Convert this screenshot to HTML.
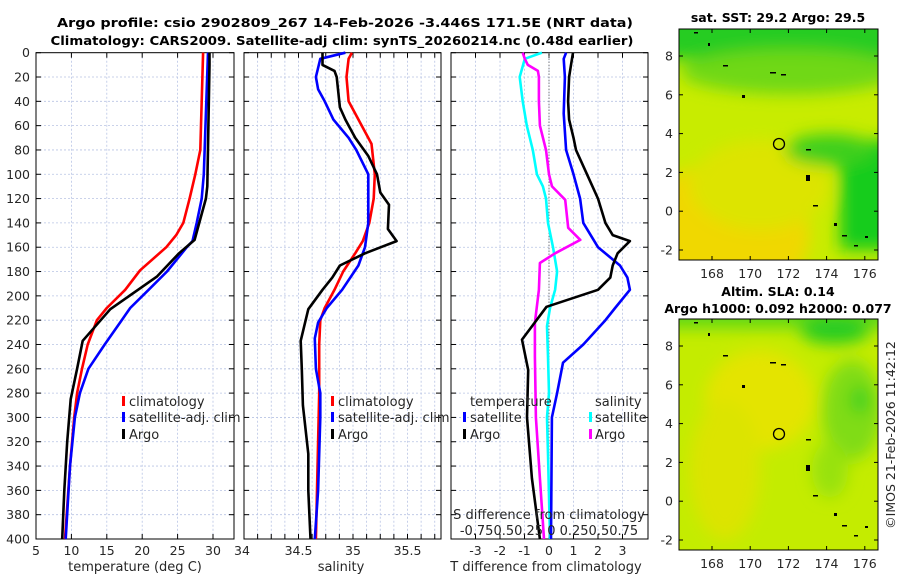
<!DOCTYPE html>
<html><head><meta charset="utf-8"><style>
body{margin:0;background:#fff;}
svg{display:block;font-family:"DejaVu Sans","Liberation Sans",sans-serif;}
.tk{font-size:12.5px;fill:#262626;}
.tt{font-size:12.5px;font-weight:bold;fill:#000;}
.lg{font-size:13px;fill:#262626;}
</style></head><body>
<svg id="c" width="900" height="580" viewBox="0 0 900 580" xmlns="http://www.w3.org/2000/svg">
<defs>
<filter id="bl" x="-20%" y="-20%" width="140%" height="140%"><feGaussianBlur stdDeviation="8"/></filter>
<clipPath id="m1c"><rect x="679" y="29" width="199" height="231"/></clipPath>
<clipPath id="m2c"><rect x="679" y="319" width="199" height="231"/></clipPath>
</defs>
<text class="tt" x="345" y="27" text-anchor="middle" textLength="576" lengthAdjust="spacingAndGlyphs">Argo profile: csio 2902809_267 14-Feb-2026 -3.446S 171.5E (NRT data)</text>
<text class="tt" x="342" y="45" text-anchor="middle" textLength="583" lengthAdjust="spacingAndGlyphs">Climatology: CARS2009. Satellite-adj clim: synTS_20260214.nc (0.48d earlier)</text>

<g id="grid"></g>
<g id="lines"></g>

<!-- map 1 -->
<g clip-path="url(#m1c)">
<rect x="679" y="29" width="199" height="231" fill="#c8ec00"/>
<g filter="url(#bl)">
<ellipse cx="720" cy="235" rx="90" ry="70" fill="#f0d800"/>
<ellipse cx="760" cy="185" rx="70" ry="45" fill="#dde400"/>
<rect x="660" y="10" width="240" height="50" fill="#28cc20"/>
<ellipse cx="790" cy="72" rx="110" ry="22" fill="#70d818"/>
<rect x="840" y="140" width="60" height="110" fill="#14cc1c"/>
<ellipse cx="830" cy="150" rx="45" ry="16" fill="#3ccf1e"/>
</g>
<g fill="#000">
<rect x="694" y="32" width="4" height="1.5"/><rect x="708" y="43" width="2" height="3"/><rect x="723" y="65" width="5" height="1.5"/>
<rect x="770" y="72" width="6" height="1.5"/><rect x="781" y="74" width="5" height="1.5"/><rect x="742" y="95" width="3" height="3"/>
<rect x="806" y="149" width="5" height="1.5"/><rect x="806" y="175" width="4" height="6"/><rect x="813" y="205" width="5" height="1.5"/>
<rect x="834" y="223" width="3" height="3"/><rect x="842" y="235" width="5" height="1.5"/><rect x="854" y="245" width="4" height="1.5"/><rect x="865" y="236" width="3" height="2"/>
</g>
<circle cx="779" cy="144" r="5.5" fill="none" stroke="#000" stroke-width="1.3"/>
</g>
<rect x="679" y="29" width="199" height="231" fill="none" stroke="#000" stroke-width="1"/>
<text class="tt" x="778" y="22" text-anchor="middle">sat. SST: 29.2 Argo: 29.5</text>

<!-- map 2 -->
<g clip-path="url(#m2c)">
<rect x="679" y="319" width="199" height="231" fill="#c4ec00"/>
<g filter="url(#bl)">
<ellipse cx="760" cy="400" rx="55" ry="50" fill="#e4e400"/>
<ellipse cx="725" cy="470" rx="35" ry="70" fill="#dce400"/>
<rect x="660" y="300" width="240" height="28" fill="#60d818"/>
<ellipse cx="835" cy="330" rx="35" ry="14" fill="#28cc20"/>
<ellipse cx="852" cy="410" rx="30" ry="50" fill="#80dc14"/>
<ellipse cx="860" cy="400" rx="10" ry="14" fill="#40d21c"/>
<ellipse cx="830" cy="470" rx="18" ry="28" fill="#98e210"/>
</g>
<g fill="#000">
<rect x="694" y="322" width="4" height="1.5"/><rect x="708" y="333" width="2" height="3"/><rect x="723" y="355" width="5" height="1.5"/>
<rect x="770" y="362" width="6" height="1.5"/><rect x="781" y="364" width="5" height="1.5"/><rect x="742" y="385" width="3" height="3"/>
<rect x="806" y="439" width="5" height="1.5"/><rect x="806" y="465" width="4" height="6"/><rect x="813" y="495" width="5" height="1.5"/>
<rect x="834" y="513" width="3" height="3"/><rect x="842" y="525" width="5" height="1.5"/><rect x="854" y="535" width="4" height="1.5"/><rect x="865" y="526" width="3" height="2"/>
</g>
<circle cx="779" cy="434" r="5.5" fill="none" stroke="#000" stroke-width="1.3"/>
</g>
<rect x="679" y="319" width="199" height="231" fill="none" stroke="#000" stroke-width="1"/>
<text class="tt" x="778" y="296" text-anchor="middle">Altim. SLA: 0.14</text>
<text class="tt" x="778" y="313" text-anchor="middle">Argo h1000: 0.092 h2000: 0.077</text>
<g id="maps"></g>

<text class="tk" transform="translate(895,435) rotate(-90)" text-anchor="middle">©IMOS 21-Feb-2026 11:42:12</text>

<!-- legends -->
<g>
<rect x="122" y="396" width="3" height="10" fill="#f00"/><text class="lg" x="129" y="406">climatology</text>
<rect x="122" y="412" width="3" height="10" fill="#00f"/><text class="lg" x="129" y="422">satellite-adj. clim</text>
<rect x="122" y="429" width="3" height="10" fill="#000"/><text class="lg" x="129" y="439">Argo</text>
</g>
<g>
<rect x="331" y="396" width="3" height="10" fill="#f00"/><text class="lg" x="338" y="406">climatology</text>
<rect x="331" y="412" width="3" height="10" fill="#00f"/><text class="lg" x="338" y="422">satellite-adj. clim</text>
<rect x="331" y="429" width="3" height="10" fill="#000"/><text class="lg" x="338" y="439">Argo</text>
</g>
<g>
<text class="lg" x="470" y="406">temperature</text><text class="lg" x="595" y="406">salinity</text>
<rect x="463" y="412" width="3" height="10" fill="#00f"/><text class="lg" x="470" y="422">satellite</text>
<rect x="463" y="429" width="3" height="10" fill="#000"/><text class="lg" x="470" y="439">Argo</text>
<rect x="589" y="412" width="3" height="10" fill="#0ff"/><text class="lg" x="595" y="422">satellite</text>
<rect x="589" y="429" width="3" height="10" fill="#f0f"/><text class="lg" x="595" y="439">Argo</text>
</g>
<text class="lg" x="549" y="519" text-anchor="middle">S difference from climatology</text>
<text class="lg" x="549" y="535" text-anchor="middle">-0.750.50.25 0  0.250.50.75</text>
<text class="lg" x="135" y="571" text-anchor="middle">temperature (deg C)</text>
<text class="lg" x="341" y="571" text-anchor="middle">salinity</text>
<text class="lg" x="546" y="571" text-anchor="middle">T difference from climatology</text>
</svg>
<script>
// ---- data ----
const depthTicks=[0,20,40,60,80,100,120,140,160,180,200,220,240,260,280,300,320,340,360,380,400];
const tTicks=[5,10,15,20,25,30];
const sTicks=[34,34.5,35,35.5];
const dTicks=[-3,-2,-1,0,1,2,3];
const lonTicks=[168,170,172,174,176];
const latTicks=[8,6,4,2,0,-2];

const climTdep=[0,80,100,120,140,150,160,179,195,210,220,240,260,280,300,340,400];
const climT=[28.6,28.2,27.5,26.7,25.8,24.8,23.4,19.7,17.6,15.0,13.6,12.3,11.5,10.8,10.4,9.8,9.1];
const satTdep=[0,100,120,140,155,160,180,195,210,220,240,260,280,300,340,400];
const satT=[29.3,28.7,28.4,27.7,27.1,26.3,23.5,20.9,18.3,17.1,14.7,12.4,11.2,10.5,9.8,9.2];
const argoTdep=[0,10,110,120,154,165,184,195,211,237,260,285,320,360,400];
const argoT=[29.5,29.5,29.2,29.0,27.4,25.2,22.1,19.4,15.5,11.6,10.8,9.9,9.4,9.0,8.7];

const climSdep=[0,5,20,40,50,60,75,100,120,140,155,165,180,195,210,220,240,280,400];
const climS=[34.99,34.96,34.94,34.96,35.02,35.08,35.17,35.2,35.19,35.15,35.09,35.02,34.91,34.83,34.74,34.70,34.69,34.69,34.66];
const satSdep=[0,5,20,30,40,55,70,80,100,140,160,175,195,210,222,235,260,280,300,360,400];
const satS=[34.93,34.70,34.66,34.68,34.74,34.82,34.96,35.03,35.14,35.14,35.11,35.05,34.90,34.76,34.68,34.65,34.66,34.70,34.70,34.68,34.65];
const argoSdep=[0,10,15,20,45,55,70,85,100,115,125,145,155,165,175,185,195,211,237,260,290,330,360,400];
const argoS=[34.72,34.72,34.83,34.85,34.88,34.93,35.02,35.14,35.22,35.25,35.33,35.32,35.40,35.11,34.88,34.81,34.72,34.59,34.52,34.53,34.54,34.59,34.59,34.61];

const dTsatDep=[0,5,20,50,80,100,120,140,160,175,185,195,210,220,240,255,280,300,400];
const dTsat=[0.7,0.6,0.65,0.6,0.7,1.0,1.27,1.4,2.0,2.9,3.2,3.3,2.7,2.3,1.4,0.57,0.33,0.12,0.08];
const dTargoDep=[0,10,20,40,55,70,80,100,120,140,150,155,165,175,185,195,209,236,261,300,350,400];
const dTargo=[0.98,0.9,0.82,0.78,0.82,1.0,1.1,1.55,2.0,2.3,2.6,3.3,2.8,2.6,2.5,2.0,-0.1,-1.1,-0.85,-0.9,-0.7,-0.37];
const dSsatDep=[0,5,20,40,60,80,100,110,120,140,160,180,195,210,225,250,280,300,330,400];
const dSsat=[-0.07,-0.24,-0.29,-0.26,-0.22,-0.16,-0.12,-0.06,-0.03,-0.01,0.04,0.08,0.06,0.01,-0.02,-0.01,0,-0.02,-0.01,0.01];
const dSargoDep=[0,5,10,15,20,40,60,80,100,110,121,144,154,165,173,195,222,250,300,350,400];
const dSargo=[-0.26,-0.24,-0.21,-0.11,-0.1,-0.1,-0.09,-0.03,0,0.03,0.16,0.19,0.31,0.06,-0.09,-0.1,-0.14,-0.14,-0.13,-0.09,-0.05];

// ---- axes ----
const Y0=52.7,Y1=539;
const yD=d=>Y0+d*(Y1-Y0)/400;
const P1={x0:36,x1:234}, P2={x0:244,x1:441}, P3={x0:451,x1:648};
const xT=t=>36+(t-5)*7.08;
const xS=s=>244+(s-34)*109;
const xDT=t=>549+t*24.5;
const xDS=s=>549+s*101;
const M1={x0:679,x1:878,y0:29,y1:260}, M2={x0:679,x1:878,y0:319,y1:550};
const xLon=l=>712+(l-168)*19.1;
const yLat=(l,m)=>m.y0+27+(8-l)*19.4;

const NS="http://www.w3.org/2000/svg";
function mk(tag,attrs,parent){const e=document.createElementNS(NS,tag);for(const k in attrs)e.setAttribute(k,attrs[k]);parent.appendChild(e);return e;}
const G=document.getElementById('grid'), L=document.getElementById('lines'), MP=document.getElementById('maps');

function panel(P,name,xs,xf,labels){
  const g=mk('g',{},G);
  
  
  depthTicks.forEach(d=>{
    const y=yD(d);
    if(d>0&&d<400){const ln=mk('line',{x1:P.x0,x2:P.x1,y1:y,y2:y,stroke:'#b8c4e4','stroke-width':0.8,'stroke-dasharray':'2,2'},g);
      
      }
    mk('line',{x1:P.x0,x2:P.x0+5,y1:y,y2:y,stroke:'#000'},g);
    mk('line',{x1:P.x1-5,x2:P.x1,y1:y,y2:y,stroke:'#000'},g);
  });
  xs.forEach(v=>{
    const x=xf(v);
    if(x>P.x0+1&&x<P.x1-1){const ln=mk('line',{x1:x,x2:x,y1:Y0,y2:Y1,stroke:'#b8c4e4','stroke-width':0.8,'stroke-dasharray':'2,2'},g);
      
      }
    mk('line',{x1:x,x2:x,y1:Y1,y2:Y1-5,stroke:'#000'},g);
    mk('line',{x1:x,x2:x,y1:Y0,y2:Y0+5,stroke:'#000'},g);
    if(labels){const t=mk('text',{x:x,y:Y1+16,'text-anchor':'middle','class':'tk'},g);t.textContent=String(v);
      
      }
  });
  const fr=mk('rect',{x:P.x0,y:Y0,width:P.x1-P.x0,height:Y1-Y0,fill:'none',stroke:'#000','stroke-width':1},g);
  
  
}
panel(P1,'temperature',tTicks,xT,true);
panel(P2,'salinity',[34.125,34.25,34.375,34.5,34.625,34.75,34.875,35,35.125,35.25,35.375,35.5,35.625,35.75],xS,false);
sTicks.forEach(v=>{const t=mk('text',{x:xS(v)+(v===34?-2:0),y:Y1+16,'text-anchor':'middle','class':'tk'},G);t.textContent=String(v);
  
  });
panel(P3,'difference',dTicks,xDT,true);
const zl=mk('line',{x1:xDT(0),x2:xDT(0),y1:Y0,y2:Y1,stroke:'#555','stroke-width':1,'stroke-dasharray':'1,2'},G);


depthTicks.forEach(d=>{const t=mk('text',{x:30,y:yD(d)+4.5,'text-anchor':'end','class':'tk'},G);t.textContent=String(d);
  
  });

function series(deps,vals,xf,color,name){
  const pts=deps.map((d,i)=>xf(vals[i]).toFixed(1)+','+yD(d).toFixed(1)).join(' ');
  const p=mk('polyline',{points:pts,fill:'none',stroke:color,'stroke-width':2.6,'stroke-linejoin':'round'},L);
  
  
}
series(climTdep,climT,xT,'#f00','temperature-climatology-line');
series(satTdep,satT,xT,'#00f','temperature-satellite-line');
series(argoTdep,argoT,xT,'#000','temperature-argo-line');
series(climSdep,climS,xS,'#f00','salinity-climatology-line');
series(satSdep,satS,xS,'#00f','salinity-satellite-line');
series(argoSdep,argoS,xS,'#000','salinity-argo-line');
series(dSsatDep,dSsat,xDS,'#0ff','s-diff-satellite-line');
series(dSargoDep,dSargo,xDS,'#f0f','s-diff-argo-line');
series(dTsatDep,dTsat,xDT,'#00f','t-diff-satellite-line');
series(dTargoDep,dTargo,xDT,'#000','t-diff-argo-line');

[M1,M2].forEach((m,mi)=>{
  lonTicks.forEach(l=>{const x=xLon(l);
    mk('line',{x1:x,x2:x,y1:m.y1,y2:m.y1-4,stroke:'#000'},MP);
    mk('line',{x1:x,x2:x,y1:m.y0,y2:m.y0+4,stroke:'#000'},MP);
    const t=mk('text',{x:x,y:m.y1+18,'text-anchor':'middle','class':'tk'},MP);t.textContent=String(l);
    
    });
  latTicks.forEach(l=>{const y=yLat(l,m);
    mk('line',{x1:m.x0,x2:m.x0+4,y1:y,y2:y,stroke:'#000'},MP);
    mk('line',{x1:m.x1-4,x2:m.x1,y1:y,y2:y,stroke:'#000'},MP);
    const t=mk('text',{x:m.x0-6,y:y+4.5,'text-anchor':'end','class':'tk'},MP);t.textContent=String(l);
    
    });
});
</script>
</body></html>
